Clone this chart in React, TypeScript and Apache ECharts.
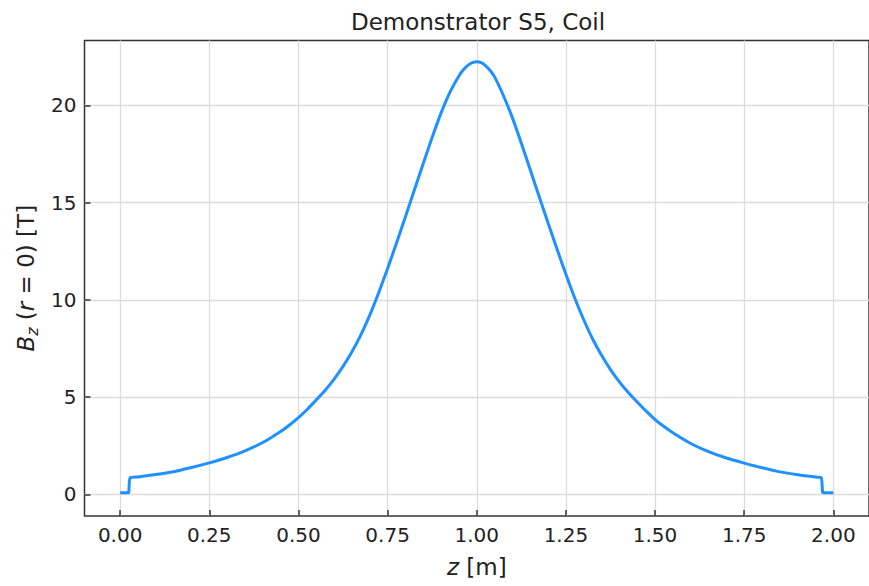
import React, { useEffect, useRef } from "react";
import * as echarts from "echarts";

const zValues = [
  0.0, 0.02, 0.024, 0.028, 0.05, 0.1, 0.15, 0.2, 0.25, 0.3, 0.35, 0.4, 0.425, 0.45, 0.475,
  0.5, 0.525, 0.55, 0.575, 0.6, 0.625, 0.65, 0.675, 0.7, 0.725, 0.75, 0.775, 0.8,
  0.825, 0.85, 0.875, 0.9, 0.925, 0.95, 0.9625, 0.975, 0.9875, 1.0, 1.0125, 1.025, 1.0375,
  1.05, 1.075, 1.1, 1.125,
  1.15, 1.175, 1.2, 1.225, 1.25, 1.275, 1.3, 1.325, 1.35, 1.375, 1.4, 1.425, 1.45,
  1.475, 1.5, 1.525, 1.55, 1.6, 1.65, 1.7, 1.75, 1.8, 1.85, 1.9, 1.95, 1.966, 1.97, 1.976, 2.0,
];
const bzValues = [
  0.08, 0.08, 0.1, 0.86, 0.9, 1.02, 1.17, 1.38, 1.62, 1.9, 2.24, 2.67, 2.94, 3.23, 3.57,
  3.95, 4.38, 4.86, 5.36, 5.93, 6.58, 7.33, 8.2, 9.22, 10.37, 11.62, 12.93, 14.28,
  15.65, 17.02, 18.36, 19.62, 20.69, 21.52, 21.84, 22.06, 22.2, 22.25, 22.2, 22.04, 21.8,
  21.47, 20.5, 19.36, 18.06,
  16.69, 15.32, 13.96, 12.62, 11.32, 10.09, 8.98, 7.99, 7.15, 6.42, 5.79, 5.24, 4.75,
  4.28, 3.85, 3.49, 3.17, 2.62, 2.2, 1.87, 1.61, 1.37, 1.16, 1.01, 0.89, 0.86, 0.1, 0.08, 0.08,
];
const xTicks = [0, 0.25, 0.5, 0.75, 1.0, 1.25, 1.5, 1.75, 2.0];
const yTicks = [0, 5, 10, 15, 20];
const titleText = "Demonstrator S5, Coil";

const FONT = '"DejaVu Sans", sans-serif';
const TXT = "#222222";

export default function App() {
  const ref = useRef<HTMLDivElement>(null);
  useEffect(() => {
    if (!ref.current) return;
    const chart = echarts.init(ref.current, undefined, { renderer: "svg" });
    const data = zValues.map((z, i) => [z, bzValues[i]]);
    chart.setOption({
      animation: false,
      backgroundColor: "#ffffff",
      textStyle: { fontFamily: FONT },
      graphic: [
        {
          type: "text",
          x: 478,
          y: 22,
          style: {
            text: titleText,
            fill: TXT,
            fontSize: 23,
            fontFamily: FONT,
            align: "center",
            verticalAlign: "middle",
          },
        },
      ],
      grid: {
        left: 84.5,
        top: 40.5,
        bottom: 65,
        right: -4,
        show: true,
        borderColor: "#333333",
        borderWidth: 1.5,
        backgroundColor: "transparent",
      },
      xAxis: {
        type: "value",
        min: -0.1,
        max: 2.1,
        name: "{i|z} [m]",
        nameLocation: "middle",
        nameGap: 37,
        nameTextStyle: {
          fontSize: 23,
          fontFamily: FONT,
          color: TXT,
          lineHeight: 28,
          rich: {
            i: { fontSize: 23, fontFamily: FONT, fontStyle: "italic", color: TXT, lineHeight: 28 },
          },
        },
        axisLine: { show: false, onZero: false },
        axisTick: {
          show: true,
          inside: true,
          length: 6,
          customValues: xTicks,
          lineStyle: { color: "#333333", width: 1.5 },
        },
        axisLabel: {
          customValues: xTicks,
          margin: 9,
          fontSize: 20,
          fontFamily: FONT,
          color: TXT,
          formatter: (v: number) => v.toFixed(2),
        },
        splitLine: { show: true, lineStyle: { color: "#dcdcdc", width: 1.3 } },
      },
      yAxis: {
        type: "value",
        min: -1.11,
        max: 23.34,
        name: "{i|B}{s|z} ({i|r} = 0) [T]",
        nameLocation: "middle",
        nameRotate: 90,
        nameGap: 43,
        nameTextStyle: {
          fontSize: 23,
          fontFamily: FONT,
          color: TXT,
          lineHeight: 28,
          rich: {
            i: { fontSize: 23, fontFamily: FONT, fontStyle: "italic", color: TXT, lineHeight: 28 },
            s: {
              fontSize: 16,
              fontFamily: FONT,
              fontStyle: "italic",
              color: TXT,
              lineHeight: 16,
              verticalAlign: "bottom",
            },
          },
        },
        axisLine: { show: false, onZero: false },
        axisTick: {
          show: true,
          inside: true,
          length: 6,
          customValues: yTicks,
          lineStyle: { color: "#333333", width: 1.5 },
        },
        axisLabel: {
          customValues: yTicks,
          margin: 8,
          fontSize: 20,
          fontFamily: FONT,
          color: TXT,
        },
        splitLine: { show: true, lineStyle: { color: "#dcdcdc", width: 1.3 } },
      },
      series: [
        {
          type: "line",
          data,
          showSymbol: false,
          symbol: "none",
          smooth: 0.2,
          lineStyle: { color: "#1e90ff", width: 3 },
          itemStyle: { color: "#1e90ff" },
        },
      ],
    });
    return () => chart.dispose();
  }, []);
  return (
    <div
      ref={ref}
      style={{ position: "absolute", left: 0, top: 0, width: 869, height: 586 }}
    />
  );
}
